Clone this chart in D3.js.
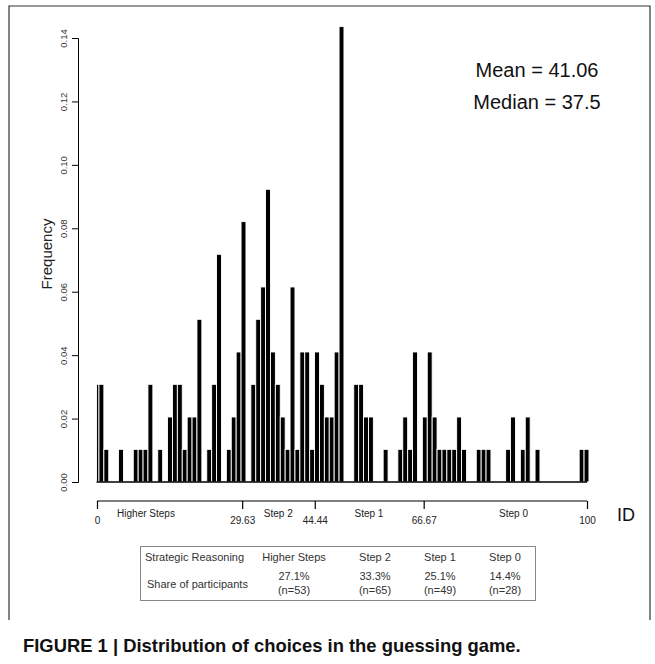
<!DOCTYPE html>
<html>
<head>
<meta charset="utf-8">
<script src="https://cdn.jsdelivr.net/npm/d3@7"></script>
<style>
  body { margin: 0; background: #fff; }
  svg { display: block; font-family: "Liberation Sans", Arial, Helvetica, sans-serif; }
</style>
</head>
<body>
<div id="chart"></div>
<script>
// choices (ID) and their frequency
let choices = [0, 1, 2, 5, 8, 9, 10, 11, 13, 15, 16, 17, 18, 19, 20, 21, 23, 24, 25, 27,
  28, 29, 30, 32, 33, 34, 35, 36, 37, 38, 39, 40, 41, 42, 43, 44, 45, 46, 47, 48,
  49, 50, 53, 54, 55, 56, 59, 62, 63, 64, 65, 67, 68, 69, 70, 71, 72, 73, 74, 75,
  78, 79, 80, 84, 85, 87, 88, 90, 99, 100];
let freqs = [0.0308, 0.0308, 0.0103, 0.0103, 0.0103, 0.0103, 0.0103, 0.0308, 0.0103, 0.0205,
  0.0308, 0.0308, 0.0103, 0.0205, 0.0205, 0.0513, 0.0103, 0.0308, 0.0718, 0.0103,
  0.0205, 0.0410, 0.0821, 0.0308, 0.0513, 0.0615, 0.0923, 0.0410, 0.0308, 0.0205,
  0.0103, 0.0615, 0.0103, 0.0410, 0.0410, 0.0103, 0.0410, 0.0308, 0.0205, 0.0205,
  0.0410, 0.1436, 0.0308, 0.0308, 0.0205, 0.0205, 0.0103, 0.0103, 0.0205, 0.0103,
  0.0410, 0.0205, 0.0410, 0.0205, 0.0103, 0.0103, 0.0103, 0.0103, 0.0205, 0.0103,
  0.0103, 0.0103, 0.0103, 0.0103, 0.0205, 0.0103, 0.0205, 0.0103, 0.0103, 0.0103];

let yTicks = [0, 0.02, 0.04, 0.06, 0.08, 0.10, 0.12, 0.14];

// step boundaries on the lower ID axis and the step names between them
let stepBreaks = [0, 29.63, 44.44, 66.67, 100];
let stepNames = ["Higher Steps", "Step 2", "Step 1", "Step 0"];
let stepNamePos = [10, 37, 55.5, 85];

// summary table
let tableSteps = ["Higher Steps", "Step 2", "Step 1", "Step 0"];
let tableShare = ["27.1%", "33.3%", "25.1%", "14.4%"];
let tableN = ["(n=53)", "(n=65)", "(n=49)", "(n=28)"];

let width = 655;
let height = 664;

let svg = d3.select("#chart")
  .append("svg")
  .attr("width", width)
  .attr("height", height);

let x = d3.scaleLinear().domain([0, 100]).range([97, 587]);
let y = d3.scaleLinear().domain([0, 0.14]).range([482, 38]);

// figure frame
svg.append("path")
  .attr("d", "M9,620 L9,6 L650,6 L650,620")
  .attr("fill", "none")
  .attr("stroke", "#333")
  .attr("stroke-width", 1.2);

// bars
let bars = choices.map((c, i) => ({c: c, f: freqs[i]}));
svg.append("g")
  .selectAll("rect")
  .data(bars)
  .enter()
  .append("rect")
  .attr("x", d => x(Math.max(d.c - 0.6, -0.1)))
  .attr("width", d => x(d.c + 0.4) - x(Math.max(d.c - 0.6, -0.1)))
  .attr("y", d => y(d.f))
  .attr("height", d => y(0) - y(d.f))
  .attr("fill", "#000")
  .attr("stroke", "#fff")
  .attr("stroke-width", 0.9);

// baseline under the bars
svg.append("line")
  .attr("x1", x(-0.1)).attr("x2", x(100))
  .attr("y1", y(0)).attr("y2", y(0))
  .attr("stroke", "#000")
  .attr("stroke-width", 1.5);

// y axis
let yAxis = svg.append("g")
  .attr("transform", "translate(78,0)")
  .call(d3.axisLeft(y).tickValues(yTicks).tickSize(6).tickFormat(d3.format(".2f")));
yAxis.select(".domain").attr("stroke", "#000");
yAxis.selectAll(".tick line").attr("stroke", "#000");
yAxis.selectAll(".tick text")
  .attr("x", 0).attr("y", 0).attr("dy", null)
  .attr("text-anchor", "middle")
  .attr("transform", "translate(-11,0) rotate(-90)")
  .attr("font-size", "9.5px")
  .attr("font-family", "Liberation Sans, Arial, sans-serif")
  .attr("fill", "#333");

svg.append("text")
  .attr("transform", "translate(52,254) rotate(-90)")
  .attr("text-anchor", "middle")
  .attr("font-size", "15px")
  .attr("fill", "#222")
  .text("Frequency");

// mean and median
svg.append("text")
  .attr("x", 537).attr("y", 77)
  .attr("text-anchor", "middle")
  .attr("font-size", "20px")
  .attr("fill", "#111")
  .text("Mean = 41.06");
svg.append("text")
  .attr("x", 537).attr("y", 109)
  .attr("text-anchor", "middle")
  .attr("font-size", "20px")
  .attr("fill", "#111")
  .text("Median = 37.5");

// lower ID axis with step boundaries
let idAxis = svg.append("g")
  .attr("transform", "translate(0,501)")
  .call(d3.axisBottom(x).tickValues(stepBreaks).tickSize(8)
    .tickFormat(d => d === 0 || d === 100 ? d3.format("d")(d) : d3.format(".2f")(d)));
idAxis.select(".domain").attr("stroke", "#000").attr("stroke-width", 1.2)
  .attr("d", "M" + x(0) + ",0H" + x(100));
idAxis.selectAll(".tick line").attr("stroke", "#000").attr("stroke-width", 1.2);
idAxis.selectAll(".tick text")
  .attr("y", 23).attr("dy", null)
  .attr("font-size", "10px")
  .attr("font-family", "Liberation Sans, Arial, sans-serif")
  .attr("fill", "#222");

svg.append("g")
  .selectAll("text")
  .data(stepNames)
  .enter()
  .append("text")
  .attr("x", (d, i) => x(stepNamePos[i]))
  .attr("y", 517)
  .attr("text-anchor", "middle")
  .attr("font-size", "10px")
  .attr("fill", "#222")
  .text(d => d);

svg.append("text")
  .attr("x", 617).attr("y", 521)
  .attr("font-size", "18px")
  .attr("fill", "#111")
  .text("ID");

// table
let table = svg.append("g");
table.append("rect")
  .attr("x", 140.5).attr("y", 546.5)
  .attr("width", 395).attr("height", 54)
  .attr("fill", "none")
  .attr("stroke", "#888")
  .attr("stroke-width", 1);

let colX = [294, 375, 440, 505];
table.append("text")
  .attr("x", 145).attr("y", 561)
  .attr("font-size", "11px").attr("fill", "#333")
  .text("Strategic Reasoning");
table.append("text")
  .attr("x", 147).attr("y", 588)
  .attr("font-size", "11px").attr("fill", "#333")
  .text("Share of participants");
table.selectAll(".hdr")
  .data(tableSteps)
  .enter()
  .append("text")
  .attr("x", (d, i) => colX[i]).attr("y", 561)
  .attr("text-anchor", "middle")
  .attr("font-size", "11px").attr("fill", "#333")
  .text(d => d);
table.selectAll(".share")
  .data(tableShare)
  .enter()
  .append("text")
  .attr("x", (d, i) => colX[i]).attr("y", 580)
  .attr("text-anchor", "middle")
  .attr("font-size", "11px").attr("fill", "#333")
  .text(d => d);
table.selectAll(".nn")
  .data(tableN)
  .enter()
  .append("text")
  .attr("x", (d, i) => colX[i]).attr("y", 594)
  .attr("text-anchor", "middle")
  .attr("font-size", "11px").attr("fill", "#333")
  .text(d => d);

// caption
svg.append("text")
  .attr("x", 23).attr("y", 652)
  .attr("font-size", "18.4px")
  .attr("font-weight", "bold")
  .attr("fill", "#111")
  .text("FIGURE 1 | Distribution of choices in the guessing game.");
</script>
</body>
</html>
